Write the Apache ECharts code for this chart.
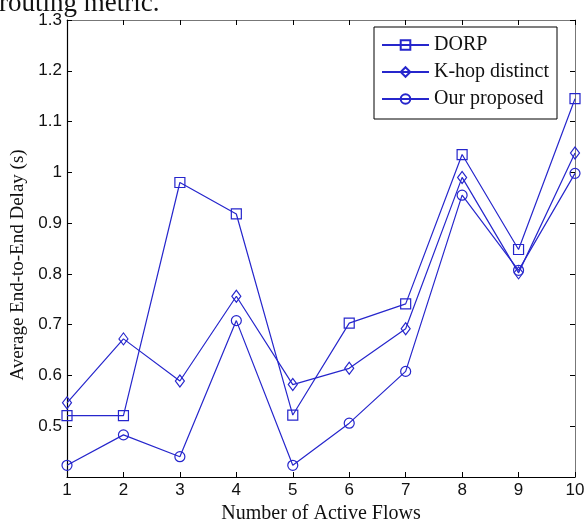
<!DOCTYPE html>
<html>
<head>
<meta charset="utf-8">
<script src="https://cdn.jsdelivr.net/npm/echarts@6/dist/echarts.min.js"></script>
<style>
html,body{margin:0;padding:0;background:#fff;}
#chart{width:587px;height:524px;}
</style>
</head>
<body>
<div id="chart"></div>
<script>
const flows = [1, 2, 3, 4, 5, 6, 7, 8, 9, 10];
const dorp = [0.521, 0.521, 0.980, 0.918, 0.522, 0.703, 0.741, 1.035, 0.848, 1.145];
const khop = [0.546, 0.672, 0.589, 0.756, 0.582, 0.614, 0.692, 0.990, 0.802, 1.038];
const ours = [0.423, 0.483, 0.440, 0.708, 0.423, 0.506, 0.608, 0.955, 0.807, 0.998];
const seriesNames = ['DORP', 'K-hop distinct', 'Our proposed'];
const yTicks = [0.5, 0.6, 0.7, 0.8, 0.9, 1, 1.1, 1.2, 1.3];

const blue = '#2626cc';
const serif = '"Liberation Serif", "Times New Roman", serif';
const sans = '"Liberation Sans", Arial, sans-serif';

function pairs(vals) { return flows.map((f, i) => [f, vals[i]]); }

function mkSeries(name, vals, symbol, size) {
  return {
    name: name, type: 'line', data: pairs(vals),
    symbol: symbol, symbolSize: size, showSymbol: true,
    lineStyle: {color: blue, width: 1.2},
    itemStyle: {color: 'rgba(255,255,255,0)', borderColor: blue, borderWidth: 1.2},
    emphasis: {disabled: true}, animation: false
  };
}

const chart = echarts.init(document.getElementById('chart'), null, {renderer: 'canvas'});
const tickStyle = {show: true, inside: true, length: 5, lineStyle: {color: '#000', width: 1}};
chart.setOption({
  backgroundColor: '#fff',
  animation: false,
  grid: {left: 67, right: 12, top: 20, bottom: 47, containLabel: false, outerBoundsMode: 'none'},
  legend: {
    data: seriesNames,
    orient: 'vertical',
    right: 30, top: 27,
    padding: [8, 8, 10, 7],
    itemGap: 7,
    itemWidth: 47, itemHeight: 12,
    borderColor: '#000', borderWidth: 1,
    backgroundColor: '#fff',
    textStyle: {fontFamily: serif, fontSize: 20, color: '#111'}
  },
  graphic: [{
    type: 'text', left: -1, top: -10, silent: true,
    style: {text: 'routing metric.', font: '27px ' + serif, fill: '#111'}
  }, {
    type: 'text', x: 18, y: 265, rotation: Math.PI / 2, silent: true,
    style: {text: 'Average End-to-End Delay (s)', font: '19px ' + serif, fill: '#111',
            align: 'center', verticalAlign: 'middle'}
  }],
  xAxis: [{
    type: 'value', min: 1, max: 10, interval: 1,
    name: 'Number of Active Flows', nameLocation: 'middle', nameGap: 25,
    nameTextStyle: {fontFamily: serif, fontSize: 20, color: '#111'},
    axisLine: {show: true, lineStyle: {color: '#000', width: 1.2}},
    axisTick: tickStyle,
    axisLabel: {fontFamily: sans, fontSize: 17, color: '#111', margin: 5},
    splitLine: {show: false}
  }, {
    type: 'value', position: 'top', min: 1, max: 10, interval: 1,
    axisLine: {show: true, onZero: false, lineStyle: {color: '#777', width: 1}},
    axisTick: tickStyle, axisLabel: {show: false}, splitLine: {show: false}
  }],
  yAxis: [{
    type: 'value', min: 0.4, max: 1.3, interval: 0.1,
    axisLine: {show: true, lineStyle: {color: '#000', width: 1.2}},
    axisTick: tickStyle,
    axisLabel: {
      fontFamily: sans, fontSize: 17, color: '#111', margin: 5,
      formatter: function (v) {
        const r = Math.round(v * 10) / 10;
        return yTicks.indexOf(r) >= 0 ? String(r) : '';
      }
    },
    splitLine: {show: false}
  }, {
    type: 'value', position: 'right', min: 0.4, max: 1.3, interval: 0.1,
    axisLine: {show: true, onZero: false, lineStyle: {color: '#777', width: 1}},
    axisTick: tickStyle, axisLabel: {show: false}, splitLine: {show: false}
  }],
  series: [
    mkSeries(seriesNames[0], dorp, 'rect', 10),
    mkSeries(seriesNames[1], khop, 'diamond', [9, 12]),
    mkSeries(seriesNames[2], ours, 'circle', 10)
  ]
});
</script>
</body>
</html>
